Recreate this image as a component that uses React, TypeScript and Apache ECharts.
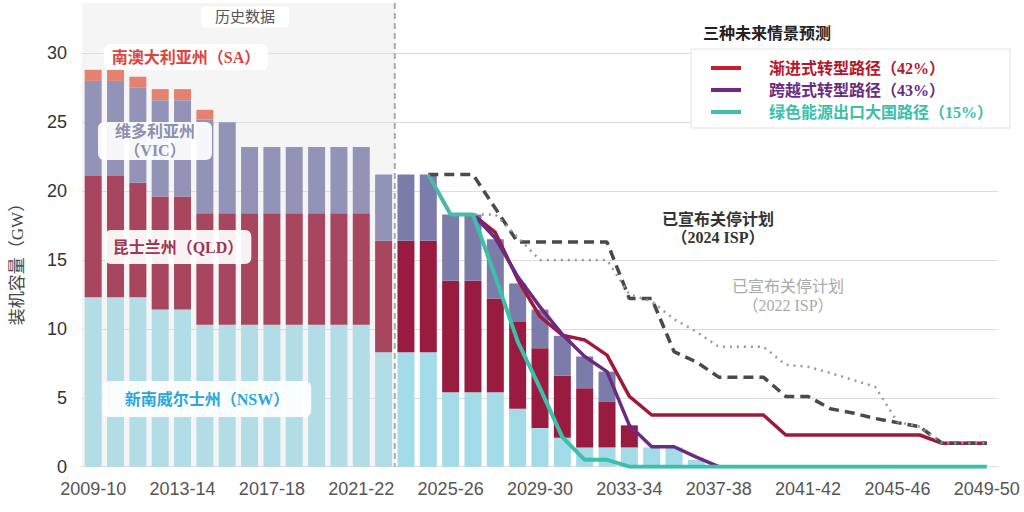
import React, { useEffect, useRef } from "react";
import * as echarts from "echarts";

const categories = [
  "2009-10", "2010-11", "2011-12", "2012-13", "2013-14", "2014-15", "2015-16", "2016-17",
  "2017-18", "2018-19", "2019-20", "2020-21", "2021-22", "2022-23", "2023-24", "2024-25",
  "2025-26", "2026-27", "2027-28", "2028-29", "2029-30", "2030-31", "2031-32", "2032-33",
  "2033-34", "2034-35", "2035-36", "2036-37", "2037-38", "2038-39", "2039-40", "2040-41",
  "2041-42", "2042-43", "2043-44", "2044-45", "2045-46", "2046-47", "2047-48", "2048-49",
  "2049-50",
];

// bars up to (and including) this many categories are historical
const historyCount = 14;

// stacked capacity by state (GW)
const nswValues = [12.3, 12.3, 12.3, 11.4, 11.4, 10.3, 10.3, 10.3, 10.3, 10.3, 10.3, 10.3, 10.3, 8.3, 8.3, 8.3, 5.4, 5.4, 5.4, 4.2, 2.8, 2.1, 1.4, 1.4, 1.4, 1.4, 1.4, 0.5];
const qldValues = [8.8, 8.8, 8.3, 8.2, 8.2, 8.1, 8.1, 8.1, 8.1, 8.1, 8.1, 8.1, 8.1, 8.1, 8.1, 8.1, 8.1, 8.1, 6.8, 6.3, 5.8, 4.5, 4.3, 3.3, 1.6, 0, 0, 0];
const vicValues = [6.9, 6.9, 6.9, 7.0, 7.0, 6.8, 6.6, 4.8, 4.8, 4.8, 4.8, 4.8, 4.8, 4.8, 4.8, 4.8, 4.8, 4.8, 4.3, 2.8, 2.8, 2.9, 2.3, 2.2, 0, 0, 0, 0];
const saValues = [0.8, 0.8, 0.8, 0.8, 0.8, 0.7];

// scenario lines (GW), each starting at the given category
const gradualStart = "2026-27";
const gradualValues = [18.3, 17.0, 13.6, 10.9, 9.55, 9.2, 8.1, 5.1, 3.75, 3.75, 3.75, 3.75, 3.75, 3.75, 2.3, 2.3, 2.3, 2.3, 2.3, 2.3, 2.3, 1.7, 1.7, 1.7];
const leapfrogStart = "2026-27";
const leapfrogValues = [18.3, 16.6, 13.8, 11.6, 9.6, 8.0, 6.9, 3.0, 1.45, 1.45, 0.7, 0];
const exportStart = "2024-25";
const exportValues = [21.2, 18.3, 18.3, 13.8, 9.1, 5.7, 2.15, 0.5, 0.5, 0, 0, 0, 0, 0, 0, 0, 0, 0, 0, 0, 0, 0, 0, 0, 0, 0];
const isp2024Start = "2024-25";
const isp2024Values = [21.2, 21.2, 21.2, 18.75, 16.3, 16.3, 16.3, 16.3, 16.3, 12.2, 12.2, 8.35, 7.6, 6.5, 6.5, 6.5, 5.1, 5.1, 4.2, 3.9, 3.5, 3.2, 2.9, 1.7, 1.7, 1.7];
const isp2022Start = "2024-25";
const isp2022Values = [21.2, 18.3, 18.3, 18.3, 16.65, 15.0, 15.0, 15.0, 15.0, 12.5, 12.0, 10.7, 9.8, 8.7, 8.7, 8.7, 7.4, 7.25, 6.8, 6.3, 5.8, 3.25, 2.9, 1.7, 1.7, 1.7];

const yTicks = { min: 0, max: 30, interval: 5 };

const legendNames = ["渐进式转型路径（42%）", "跨越式转型路径（43%）", "绿色能源出口大国路径（15%）"];

const FONT_SERIF = '"Liberation Serif", "Noto Sans CJK SC", serif';
const FONT_SANS = '"Liberation Sans", Arial, sans-serif';

const histColors = { nsw: "#b2dde7", qld: "#a8455f", vic: "#9293b6", sa: "#e4816f" };
const projColors = { nsw: "#a3dbe8", qld: "#9a1b40", vic: "#7b7ca9", sa: "#e4816f" };

function barData(values: number[], key: "nsw" | "qld" | "vic" | "sa") {
  return values.map((v, i) => ({
    value: v,
    itemStyle: { color: i < historyCount ? histColors[key] : projColors[key] },
  }));
}

function lineData(start: string, values: number[]) {
  const s = categories.indexOf(start);
  return values.map((v, i) => [categories[s + i], v]);
}

function barSeries(name: string, values: number[], key: "nsw" | "qld" | "vic" | "sa") {
  return {
    name,
    type: "bar",
    stack: "capacity",
    barWidth: 17,
    data: barData(values, key),
    color: histColors[key],
  };
}

export default function App() {
  const ref = useRef<HTMLDivElement>(null);

  useEffect(() => {
    if (!ref.current) return;
    const chart = echarts.init(ref.current, null, { renderer: "svg" });
    const option: any = {
      animation: false,
      backgroundColor: "#ffffff",
      grid: { left: 82, right: 26, top: 53.3, bottom: 45.3, containLabel: false },
      title: {
        text: "三种未来情景预测",
        left: 698,
        top: 20,
        textStyle: { fontSize: 16, fontWeight: "bold", color: "#222", fontFamily: FONT_SERIF },
      },
      legend: {
        orient: "vertical",
        left: 711,
        top: 60,
        padding: 0,
        itemWidth: 30,
        itemHeight: 4,
        itemGap: 6,
        icon: "rect",
        z: 10,
        textStyle: { fontSize: 16, fontWeight: "bold", fontFamily: FONT_SERIF, padding: [0, 0, 0, 23] },
        data: [
          { name: legendNames[0], itemStyle: { color: "#c41f2b" }, textStyle: { color: "#b5162c" } },
          { name: legendNames[1], itemStyle: { color: "#6a2c82" }, textStyle: { color: "#6a2c82" } },
          { name: legendNames[2], itemStyle: { color: "#3cbfab" }, textStyle: { color: "#3cbfab" } },
        ],
      },
      xAxis: {
        type: "category",
        data: categories,
        boundaryGap: true,
        axisLine: { lineStyle: { color: "#dddddd", width: 1 } },
        axisTick: { alignWithLabel: true, interval: 3, length: 8, lineStyle: { color: "#cccccc" } },
        axisLabel: { interval: 3, fontSize: 18, color: "#555", fontFamily: FONT_SANS, margin: 13 },
      },
      yAxis: {
        type: "value",
        min: yTicks.min,
        max: yTicks.max,
        interval: yTicks.interval,
        name: "装机容量（GW）",
        nameLocation: "middle",
        nameRotate: 90,
        nameGap: 56,
        nameTextStyle: { fontSize: 17, color: "#444", fontFamily: FONT_SERIF },
        axisLine: { show: false },
        axisTick: { show: false },
        axisLabel: { fontSize: 18, color: "#333", fontFamily: FONT_SANS, margin: 15 },
        splitLine: { lineStyle: { color: "#dddddd", width: 1 } },
      },
      series: [
        barSeries("新南威尔士州（NSW）", nswValues, "nsw"),
        barSeries("昆士兰州（QLD）", qldValues, "qld"),
        barSeries("维多利亚州（VIC）", vicValues, "vic"),
        barSeries("南澳大利亚州（SA）", saValues, "sa"),
        {
          name: legendNames[0],
          type: "line",
          data: lineData(gradualStart, gradualValues),
          symbol: "none",
          color: "#9e1a3c",
          lineStyle: { color: "#9e1a3c", width: 3.5 },
          z: 3,
        },
        {
          name: legendNames[1],
          type: "line",
          data: lineData(leapfrogStart, leapfrogValues),
          symbol: "none",
          color: "#6a2c82",
          lineStyle: { color: "#6a2c82", width: 3.5 },
          z: 4,
        },
        {
          name: legendNames[2],
          type: "line",
          data: lineData(exportStart, exportValues),
          symbol: "none",
          color: "#3cbfab",
          lineStyle: { color: "#3cbfab", width: 4 },
          z: 5,
        },
        {
          name: "已宣布关停计划（2024 ISP）",
          type: "line",
          data: lineData(isp2024Start, isp2024Values),
          symbol: "none",
          color: "#4a4a4a",
          lineStyle: { color: "#4a4a4a", width: 3.5, type: [10, 6] },
          z: 6,
        },
        {
          name: "已宣布关停计划（2022 ISP）",
          type: "line",
          data: lineData(isp2022Start, isp2022Values),
          symbol: "none",
          color: "#9a9a9a",
          lineStyle: { color: "#9a9a9a", width: 2.5, type: [2, 5] },
          z: 7,
        },
      ],
    };
    chart.setOption(option);

    const xOf = (c: string) => chart.convertToPixel({ xAxisIndex: 0 }, c) as number;
    const yOf = (v: number) => chart.convertToPixel({ yAxisIndex: 0 }, v) as number;
    const xFirst = xOf(categories[0]);
    const xLastHist = xOf(categories[historyCount - 1]);
    const xFirstProj = xOf(categories[historyCount]);
    const band = xFirstProj - xLastHist;
    const divider = (xLastHist + xFirstProj) / 2;
    const left = xFirst - band / 2;
    const y0 = yOf(0);
    const topY = 3;

    const boxText = (text: string, x: number, y: number, fill: string, extra: any = {}) => ({
      type: "text",
      z: 20,
      style: {
        text,
        x,
        y,
        fill,
        fontSize: 16,
        fontWeight: "bold",
        fontFamily: FONT_SERIF,
        align: "center",
        verticalAlign: "middle",
        backgroundColor: "rgba(255,255,255,0.93)",
        borderRadius: 6,
        ...extra,
      },
    });

    chart.setOption({
      graphic: [
        {
          type: "rect",
          z: -10,
          silent: true,
          shape: { x: left, y: topY, width: divider - left, height: y0 - topY },
          style: { fill: "#f5f5f5" },
        },
        {
          type: "line",
          z: 8,
          silent: true,
          shape: { x1: divider, y1: topY, x2: divider, y2: y0 },
          style: { stroke: "#ababab", lineWidth: 2, lineDash: [6, 4] },
        },
        boxText("历史数据", 245, 17, "#555", { fontWeight: "normal", fontSize: 15, padding: [3, 14], borderRadius: 4, backgroundColor: "#ffffff" }),
        boxText("南澳大利亚州（SA）", 186, 57, "#d9453f", { padding: [5, 8] }),
        boxText("维多利亚州\n（VIC）", 155, 141, "#8c8fae", { lineHeight: 19, padding: [0, 17] }),
        boxText("昆士兰州（QLD）", 178, 247, "#9e3552", { padding: [9, 8] }),
        boxText("新南威尔士州（NSW）", 207, 399, "#2ba6dc", { padding: [10, 22] }),
        boxText("已宣布关停计划\n（2024 ISP）", 718, 228, "#333", { lineHeight: 18, padding: [4, 10], backgroundColor: "rgba(255,255,255,0.75)" }),
        boxText("已宣布关停计划\n（2022 ISP）", 788, 296, "#aaaaaa", { fontWeight: "normal", lineHeight: 19, padding: [4, 10], backgroundColor: "rgba(255,255,255,0.75)" }),
        {
          type: "rect",
          z: 9,
          silent: true,
          shape: { x: 691, y: 49, width: 319, height: 79 },
          style: { fill: "#ffffff", stroke: "#e2e2e2", lineWidth: 1 },
        },
      ],
    });

    return () => chart.dispose();
  }, []);

  return (
    <div
      ref={ref}
      style={{ position: "fixed", left: 0, top: 0, width: 1024, height: 512, background: "#fff" }}
    />
  );
}
